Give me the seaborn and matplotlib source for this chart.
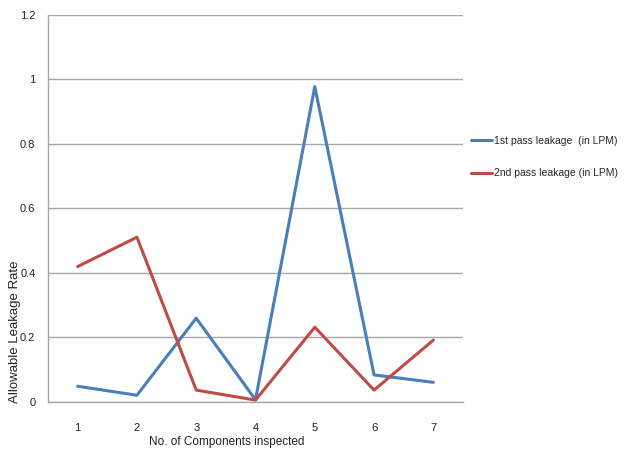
import matplotlib
matplotlib.use("Agg")
import matplotlib.pyplot as plt
import seaborn as sns
import pandas as pd
from matplotlib.lines import Line2D

components = [1, 2, 3, 4, 5, 6, 7]
first_pass = [0.048, 0.020, 0.259, 0.006, 0.977, 0.083, 0.060]
second_pass = [0.419, 0.510, 0.036, 0.005, 0.231, 0.036, 0.191]
series_names = ["1st pass leakage  (in LPM)", "2nd pass leakage (in LPM)"]
y_ticks = [0, 0.2, 0.4, 0.6, 0.8, 1.0, 1.2]
y_tick_labels = ["0", "0.2", "0.4", "0.6", "0.8", "1", "1.2"]

df = pd.DataFrame({
    "x": components * 2,
    "y": first_pass + second_pass,
    "series": [series_names[0]] * 7 + [series_names[1]] * 7,
})

sns.set_theme(style="white")
plt.rcParams["font.family"] = ["Liberation Sans", "DejaVu Sans"]

fig = plt.figure(figsize=(6.24, 4.61), dpi=100)
ax = fig.add_axes([48 / 624, 1 - 401.7 / 461, (463 - 48) / 624, (401.7 - 14.7) / 461])

palette = {series_names[0]: "#4a7ebb", series_names[1]: "#be4b48"}
sns.lineplot(data=df, x="x", y="y", hue="series", palette=palette, linewidth=2.2,
             ax=ax, legend=False)

ax.set_xlim(0.5, 7.5)
ax.set_ylim(0, 1.2)
ax.set_yticks(y_ticks)
ax.set_yticklabels(y_tick_labels)
ax.set_xticks(components)
ax.set_xticklabels([str(c) for c in components])
ax.yaxis.grid(True, color="#a6a6a6", linewidth=1.0)
ax.set_axisbelow(True)
for s in ["top", "right"]:
    ax.spines[s].set_visible(False)
for s in ["left", "bottom"]:
    ax.spines[s].set_color("#a6a6a6")
    ax.spines[s].set_linewidth(1.0)
ax.tick_params(axis="both", length=0, labelsize=8, colors="#222222")
ax.tick_params(axis="x", pad=15)
ax.tick_params(axis="y", pad=9)
ax.set_xlabel("")
ax.set_ylabel("")

fig.text(227 / 624, 1 - 442 / 461, "No. of Components inspected", ha="center", va="center",
         fontsize=8.5, color="#222222")
fig.text(15 / 624, 1 - 332 / 461, "Allowable Leakage Rate", ha="center", va="center",
         rotation=90, fontsize=9.5, color="#222222")

handles = [Line2D([0], [0], color=palette[n], linewidth=2.2) for n in series_names]
fig.legend(handles, series_names, loc="center left", bbox_to_anchor=(468 / 624, 1 - 157 / 461),
           frameon=False, fontsize=7.5, handlelength=2.0, handletextpad=0.2, labelspacing=2.2,
           borderaxespad=0, borderpad=0.3)

fig.savefig("out.png", dpi=100)
